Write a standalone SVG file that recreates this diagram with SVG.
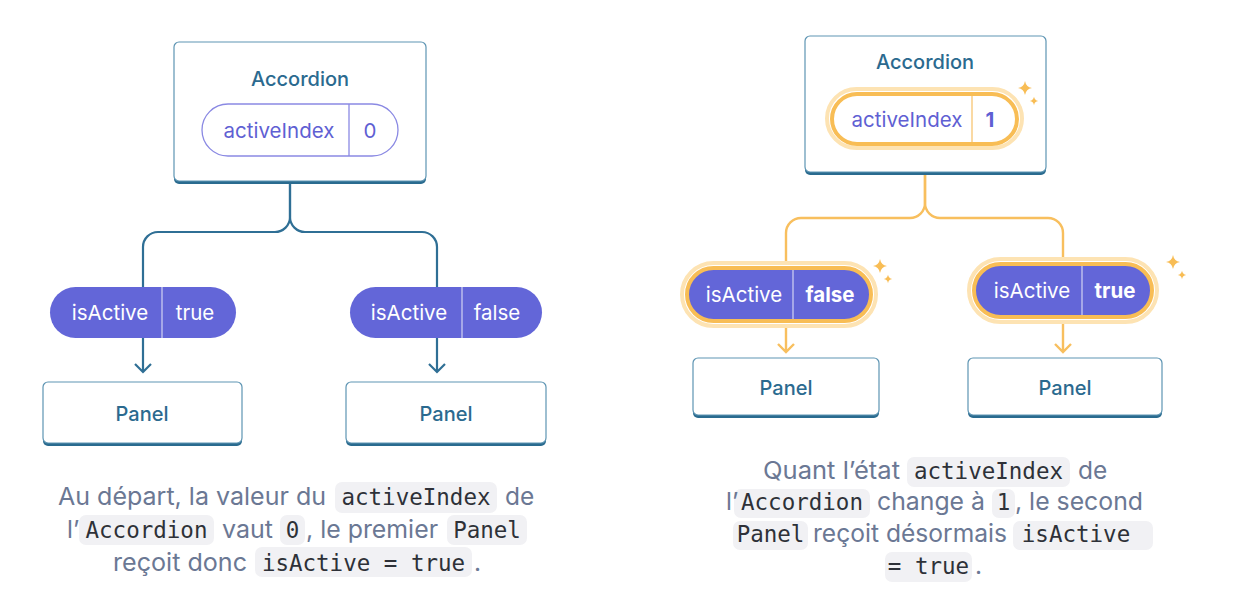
<svg xmlns="http://www.w3.org/2000/svg" width="1243" height="601" viewBox="0 0 1243 601">
<defs>
<style>
.shadow{fill:#2a6b8f}
.box{fill:#fff;stroke:#5e95b3;stroke-width:1.2}
.title{font-family:Inter,"Noto Sans",sans-serif;font-size:20px;font-weight:500;fill:#2b6a8f;text-anchor:middle}
.plbl{font-family:Inter,"Noto Sans",sans-serif;font-size:20.5px;text-anchor:middle}
.blue{fill:none;stroke:#2f6f95;stroke-width:2.2}
.gold{fill:none;stroke:#f8bf5e;stroke-width:2.4}
.cap{font-family:Inter,"Noto Sans",sans-serif;font-size:24.5px;fill:#6b7894}
.code{font-family:"DejaVu Sans Mono","Liberation Mono",monospace;font-size:22.5px;fill:#2e3138;text-anchor:middle}
.cbg{fill:#f1f1f4}
.spark{fill:#f8bd55}
</style>
<path id="star" d="M0 -7 Q1 -1 7 0 Q1 1 0 7 Q-1 1 -7 0 Q-1 -1 0 -7Z"/>
</defs>

<g id="connectors">
<path class="blue" d="M290 183 V217 A15 15 0 0 1 275 232 H158 A15 15 0 0 0 143 247 V287"/>
<path class="blue" d="M290 183 V217 A15 15 0 0 0 305 232 H422 A15 15 0 0 1 437 247 V287"/>
<path class="blue" d="M143 338 V372 M135 364 L143 372 L151 364"/>
<path class="blue" d="M437 338 V372 M429 364 L437 372 L445 364"/>
<path class="gold" d="M925 173 V203 A15 15 0 0 1 910 218 H801 A15 15 0 0 0 786 233 V263"/>
<path class="gold" d="M925 173 V203 A15 15 0 0 0 940 218 H1048 A15 15 0 0 1 1063 233 V258"/>
<path class="gold" d="M786 327 V352 M778 344 L786 352 L794 344"/>
<path class="gold" d="M1063 323 V352 M1055 344 L1063 352 L1071 344"/>
</g>

<g id="accordion-left">
<rect class="shadow" x="174" y="44" width="252" height="140" rx="5"/>
<rect class="box" x="174" y="42" width="252" height="139" rx="5"/>
<text class="title" x="300" y="86">Accordion</text>
<rect x="202" y="104" width="196" height="52" rx="26" fill="#fff" stroke="#8a89e3" stroke-width="1.3"/>
<line x1="349" y1="104" x2="349" y2="156" stroke="#8a89e3" stroke-width="1.3"/>
<text class="plbl" x="279" y="138" fill="#5f5fd3">activeIndex</text>
<text class="plbl" x="370" y="138" fill="#5f5fd3">0</text>
</g>

<g id="prop-left-1">
<rect x="50" y="287" width="186" height="51" rx="25.5" fill="#6366d8"/>
<line x1="162" y1="287" x2="162" y2="338" stroke="#c9cbf2" stroke-width="1.3"/>
<text class="plbl" x="110" y="320" fill="#fff">isActive</text>
<text class="plbl" x="195" y="320" fill="#fff">true</text>
</g>

<g id="prop-left-2">
<rect x="350" y="287" width="192" height="51" rx="25.5" fill="#6366d8"/>
<line x1="462" y1="287" x2="462" y2="338" stroke="#c9cbf2" stroke-width="1.3"/>
<text class="plbl" x="409" y="320" fill="#fff">isActive</text>
<text class="plbl" x="497" y="320" fill="#fff">false</text>
</g>

<g id="panel-left-1">
<rect class="shadow" x="43" y="384" width="199" height="62" rx="5"/>
<rect class="box" x="43" y="382" width="199" height="61" rx="5"/>
<text class="title" x="142" y="421">Panel</text>
</g>

<g id="panel-left-2">
<rect class="shadow" x="346" y="384" width="200" height="62" rx="5"/>
<rect class="box" x="346" y="382" width="200" height="61" rx="5"/>
<text class="title" x="446" y="421">Panel</text>
</g>

<g id="accordion-right">
<rect class="shadow" x="805" y="38" width="241" height="137" rx="5"/>
<rect class="box" x="805" y="36" width="241" height="136" rx="5"/>
<text class="title" x="925" y="69">Accordion</text>
<rect x="827" y="89" width="195" height="59" rx="29.5" fill="none" stroke="#fde3b3" stroke-width="4"/>
<rect x="832" y="94" width="185" height="50" rx="25" fill="#fff" stroke="#f8bd55" stroke-width="4"/>
<line x1="972" y1="96" x2="972" y2="142" stroke="#f8cd84" stroke-width="1.5"/>
<text class="plbl" x="907" y="127" fill="#5f5fd3">activeIndex</text>
<text class="plbl" x="990" y="127" fill="#5f5fd3" font-weight="700">1</text>
<use href="#star" class="spark" transform="translate(1025 88)"/>
<use href="#star" class="spark" transform="translate(1034 101) scale(0.6)"/>
</g>

<g id="prop-right-1">
<rect x="682" y="263" width="194" height="63" rx="31.5" fill="none" stroke="#fde3b3" stroke-width="4"/>
<rect x="687" y="268" width="184" height="53" rx="26.5" fill="#6366d8" stroke="#f8bd55" stroke-width="4"/>
<line x1="793" y1="270" x2="793" y2="319" stroke="#c9cbf2" stroke-width="1.3"/>
<text class="plbl" x="744" y="302" fill="#fff">isActive</text>
<text class="plbl" x="830" y="302" fill="#fff" font-weight="700">false</text>
<use href="#star" class="spark" transform="translate(880 266)"/>
<use href="#star" class="spark" transform="translate(888 279) scale(0.6)"/>
</g>

<g id="prop-right-2">
<rect x="969" y="259" width="188" height="63" rx="31.5" fill="none" stroke="#fde3b3" stroke-width="4"/>
<rect x="974" y="264" width="178" height="53" rx="26.5" fill="#6366d8" stroke="#f8bd55" stroke-width="4"/>
<line x1="1082" y1="266" x2="1082" y2="315" stroke="#c9cbf2" stroke-width="1.3"/>
<text class="plbl" x="1032" y="298" fill="#fff">isActive</text>
<text class="plbl" x="1115" y="298" fill="#fff" font-weight="700">true</text>
<use href="#star" class="spark" transform="translate(1173 262)"/>
<use href="#star" class="spark" transform="translate(1182 275) scale(0.6)"/>
</g>

<g id="panel-right-1">
<rect class="shadow" x="693" y="360" width="186" height="58" rx="5"/>
<rect class="box" x="693" y="358" width="186" height="57" rx="5"/>
<text class="title" x="786" y="395">Panel</text>
</g>

<g id="panel-right-2">
<rect class="shadow" x="968" y="360" width="194" height="58" rx="5"/>
<rect class="box" x="968" y="358" width="194" height="57" rx="5"/>
<text class="title" x="1065" y="395">Panel</text>
</g>

<g id="caption-left">
<rect class="cbg" x="335" y="482" width="162" height="31" rx="7"/>
<rect class="cbg" x="79" y="515" width="135" height="30" rx="7"/>
<rect class="cbg" x="280" y="515" width="25" height="30" rx="7"/>
<rect class="cbg" x="447" y="515" width="80" height="30" rx="7"/>
<rect class="cbg" x="255" y="547" width="217" height="30" rx="7"/>
<text class="cap" x="58" y="505" textLength="268" lengthAdjust="spacingAndGlyphs">Au départ, la valeur du</text>
<text class="code" x="416" y="505">activeIndex</text>
<text class="cap" x="505" y="505">de</text>
<text class="cap" x="67" y="538">l’</text>
<text class="code" x="146.5" y="538">Accordion</text>
<text class="cap" x="222" y="538" textLength="51" lengthAdjust="spacingAndGlyphs">vaut</text>
<text class="code" x="292.5" y="538">0</text>
<text class="cap" x="306" y="538" textLength="132" lengthAdjust="spacingAndGlyphs">, le premier</text>
<text class="code" x="487" y="538">Panel</text>
<text class="cap" x="113" y="571" textLength="134" lengthAdjust="spacingAndGlyphs">reçoit donc</text>
<text class="code" x="363.5" y="571">isActive = true</text>
<text class="cap" x="474" y="571">.</text>
</g>

<g id="caption-right">
<rect class="cbg" x="907" y="457" width="163" height="30" rx="7"/>
<rect class="cbg" x="734" y="489" width="136" height="29" rx="7"/>
<rect class="cbg" x="992" y="489" width="23" height="29" rx="7"/>
<rect class="cbg" x="733" y="521" width="75" height="29" rx="7"/>
<rect class="cbg" x="1013" y="521" width="140" height="29" rx="7"/>
<rect class="cbg" x="885" y="552" width="87" height="30" rx="7"/>
<text class="cap" x="763" y="479" textLength="137" lengthAdjust="spacingAndGlyphs">Quant l’état</text>
<text class="code" x="988.5" y="479">activeIndex</text>
<text class="cap" x="1078" y="479">de</text>
<text class="cap" x="726" y="510">l’</text>
<text class="code" x="802" y="510">Accordion</text>
<text class="cap" x="877" y="510" textLength="108" lengthAdjust="spacingAndGlyphs">change à</text>
<text class="code" x="1003.5" y="510">1</text>
<text class="cap" x="1015" y="510" textLength="128" lengthAdjust="spacingAndGlyphs">, le second</text>
<text class="code" x="770.5" y="542">Panel</text>
<text class="cap" x="813" y="542" textLength="194" lengthAdjust="spacingAndGlyphs">reçoit désormais</text>
<text class="code" x="1076" y="542">isActive</text>
<text class="code" x="928.5" y="574">= true</text>
<text class="cap" x="975" y="574">.</text>
</g>
</svg>
